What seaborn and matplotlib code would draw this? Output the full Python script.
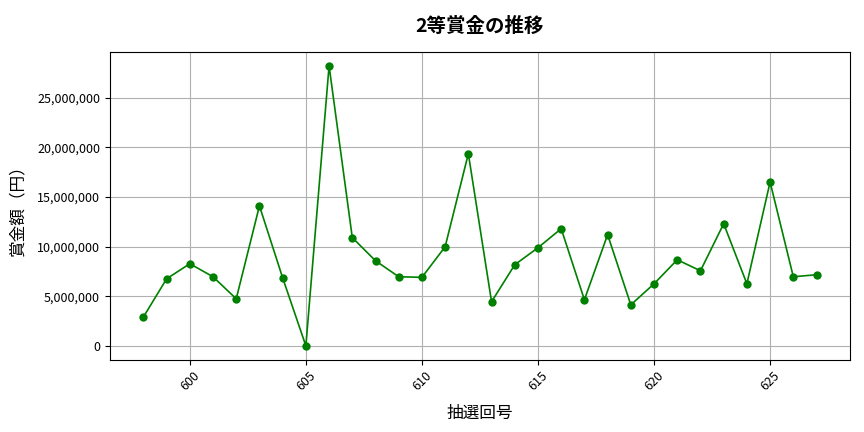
import numpy as np
import pandas as pd
import matplotlib
matplotlib.use("Agg")
import matplotlib.pyplot as plt
import matplotlib.ticker as mticker
import seaborn as sns

draw_numbers = list(range(598, 628))
prize_amounts = [
    2900000, 6750000, 8270000, 6960000, 4740000, 14100000, 6850000, 0,
    28200000, 10900000, 8570000, 6960000, 6900000, 9980000, 19350000,
    4440000, 8170000, 9880000, 11800000, 4640000, 11200000, 4130000,
    6250000, 8670000, 7560000, 12300000, 6250000, 16500000, 6960000, 7160000,
]

df = pd.DataFrame({"draw": draw_numbers, "prize": prize_amounts})

plt.rcParams["font.family"] = ["Noto Sans CJK JP", "DejaVu Sans"]

fig, ax = plt.subplots(figsize=(8.64, 4.32), dpi=100)
sns.lineplot(data=df, x="draw", y="prize", marker="o", color="green",
             markersize=6, markeredgewidth=0, linewidth=1.2, ax=ax)

ax.set_title("2等賞金の推移", fontsize=14, fontweight="bold", pad=14)
ax.set_xlabel("抽選回号", fontsize=12, labelpad=8)
ax.set_ylabel("賞金額（円）", fontsize=12, labelpad=8)
ax.yaxis.set_major_formatter(mticker.FuncFormatter(lambda v, p: f"{int(v):,}"))
ax.xaxis.set_major_locator(mticker.MultipleLocator(5))
ax.tick_params(axis="x", labelrotation=45, labelsize=9)
ax.tick_params(axis="y", labelsize=9)
ax.grid(True, color="#b0b0b0", linewidth=0.8)

fig.subplots_adjust(left=0.127, right=0.984, top=0.88, bottom=0.167)
plt.savefig("out.png")
